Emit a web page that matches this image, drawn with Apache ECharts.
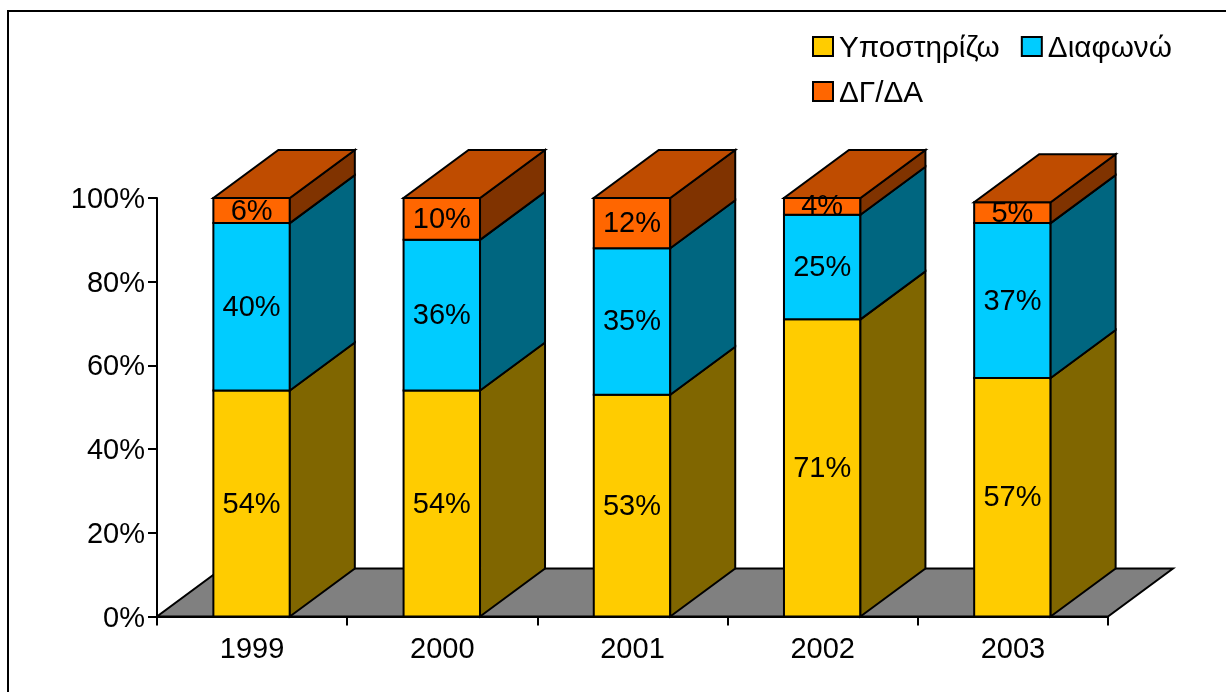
<!DOCTYPE html>
<html>
<head>
<meta charset="utf-8">
<style>
  html, body { margin: 0; padding: 0; background: #fff; }
  #main { width: 1226px; height: 692px; }
</style>
<script src="https://cdn.jsdelivr.net/npm/echarts@6/dist/echarts.min.js"></script>
</head>
<body>
<div id="main"></div>
<script>
var years = ['1999', '2000', '2001', '2002', '2003'];
var tickLabels = ['0%', '20%', '40%', '60%', '80%', '100%'];
var support = [54, 54, 53, 71, 57];
var disagree = [40, 36, 35, 25, 37];
var noAnswer = [6, 10, 12, 4, 5];

var FONT = '"Liberation Sans", Arial, sans-serif';
var DX = 65, DY = -48;   // depth of the 3d effect
var BAR_RATIO = 0.402;

var chart = echarts.init(document.getElementById('main'), null, { renderer: 'canvas' });

function poly(points, fill) {
  return {
    type: 'polygon',
    shape: { points: points },
    style: { fill: fill, stroke: '#000', lineWidth: 2, lineJoin: 'miter' }
  };
}

// one stacked piece of a bar: front, side and (for the last piece) the lid
function segment(values, colors, below, isTop) {
  return function (params, api) {
    var i = params.dataIndex;
    var base = below.reduce(function (sum, arr) { return sum + arr[i]; }, 0);
    var val = values[i];
    var bottom = api.coord([i, base]);
    var top = api.coord([i, base + val]);
    var w = api.size([1, 0])[0] * BAR_RATIO;
    var x0 = bottom[0] - w / 2 - 0.5, x1 = bottom[0] + w / 2 - 0.5;
    var y0 = bottom[1], y1 = top[1];
    var children = [
      poly([[x0, y0], [x1, y0], [x1, y1], [x0, y1]], colors[0]),
      poly([[x1, y0], [x1 + DX, y0 + DY], [x1 + DX, y1 + DY], [x1, y1]], colors[1])
    ];
    if (isTop) {
      children.push(poly([[x0, y1], [x1, y1], [x1 + DX, y1 + DY], [x0 + DX, y1 + DY]], colors[2]));
    }
    children.push({
      type: 'text',
      z2: 10,
      style: {
        text: val + '%',
        x: bottom[0] - 0.5,
        y: (y0 + y1) / 2 + 1,
        align: 'center',
        verticalAlign: 'middle',
        font: '29px ' + FONT,
        fill: '#000'
      }
    });
    return { type: 'group', children: children };
  };
}

var option = {
  backgroundColor: '#fff',
  animation: false,
  textStyle: { fontFamily: FONT },
  grid: { left: 157, top: 198, width: 951, height: 418.5 },
  legend: {
    left: 812,
    top: 33.5,
    width: 380,
    icon: 'rect',
    itemWidth: 20,
    itemHeight: 19,
    itemGap: 15,
    padding: 0,
    selectedMode: false,
    data: ['Υποστηρίζω', 'Διαφωνώ', 'ΔΓ/ΔΑ'],
    formatter: '{a|{name}}{b|\u00a0}',
    textStyle: {
      color: '#000',
      rich: {
        a: { fontSize: 29.7, color: '#000', fontFamily: FONT, padding: [4, 0, 0, 1] },
        b: { fontSize: 22, fontFamily: FONT }
      }
    },
    itemStyle: { borderColor: '#000', borderWidth: 2 }
  },
  xAxis: {
    type: 'category',
    data: years,
    axisLine: { onZero: false, lineStyle: { color: '#000', width: 2 } },
    axisTick: { show: true, length: 9, lineStyle: { color: '#000', width: 2 } },
    axisLabel: { color: '#000', fontSize: 29, fontFamily: FONT, margin: 19 },
    splitLine: { show: false }
  },
  yAxis: {
    type: 'value',
    min: 0,
    max: 100,
    interval: 20,
    axisLine: { show: true, lineStyle: { color: '#000', width: 2 } },
    axisTick: { show: true, length: 9, lineStyle: { color: '#000', width: 2 } },
    axisLabel: {
      color: '#000', margin: 12,
      formatter: function (v) { return '{a|' + tickLabels[v / 20] + '}'; },
      rich: { a: { fontSize: 29, color: '#000', fontFamily: FONT, padding: [4, 0, 0, 0] } }
    },
    splitLine: { show: false }
  },
  graphic: [{
    type: 'polyline',
    silent: true,
    shape: { points: [[8, 692], [8, 11], [1226, 11]] },
    style: { stroke: '#000', lineWidth: 2, fill: null }
  }],
  series: [
    {
      // floor under the bars
      type: 'custom',
      coordinateSystem: 'cartesian2d',
      silent: true,
      z: 1,
      data: [0],
      renderItem: function (params, api) {
        var half = api.size([1, 0])[0] / 2;
        var left = api.coord([0, 0])[0] - half;
        var right = api.coord([years.length - 1, 0])[0] + half;
        var y = api.coord([0, 0])[1];
        return poly([[left, y], [right, y], [right + DX, y + DY], [left + DX, y + DY]], '#808080');
      }
    },
    {
      name: 'Υποστηρίζω',
      type: 'custom',
      z: 2,
      silent: true,
      itemStyle: { color: '#FFCC00' },
      data: years.map(function (y, i) { return [i, support[i]]; }),
      renderItem: segment(support, ['#FFCC00', '#806600', '#BF9900'], [], false)
    },
    {
      name: 'Διαφωνώ',
      type: 'custom',
      z: 3,
      silent: true,
      itemStyle: { color: '#00CCFF' },
      data: years.map(function (y, i) { return [i, disagree[i]]; }),
      renderItem: segment(disagree, ['#00CCFF', '#006680', '#0099BF'], [support], false)
    },
    {
      name: 'ΔΓ/ΔΑ',
      type: 'custom',
      z: 4,
      silent: true,
      itemStyle: { color: '#FF6600' },
      data: years.map(function (y, i) { return [i, noAnswer[i]]; }),
      renderItem: segment(noAnswer, ['#FF6600', '#803300', '#BF4C00'], [support, disagree], true)
    }
  ]
};

chart.setOption(option);
</script>
</body>
</html>
